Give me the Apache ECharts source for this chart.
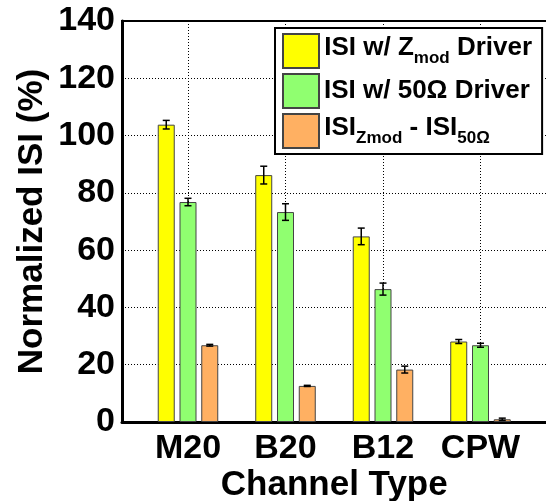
<!DOCTYPE html>
<html>
<head>
<meta charset="utf-8">
<script src="https://cdn.jsdelivr.net/npm/echarts@6/dist/echarts.min.js"></script>
<style>
  html, body { margin: 0; padding: 0; background: #fff; }
  #chart { width: 546px; height: 501px; }
</style>
</head>
<body>
<div id="chart"></div>
<script>
const categories = ['M20', 'B20', 'B12', 'CPW'];
const zmodIsi = [103.8, 86.2, 64.8, 28.1];
const zmodErr = [1.5, 3.1, 2.9, 0.7];
const fiftyIsi = [76.8, 73.3, 46.4, 26.8];
const fiftyErr = [1.3, 2.9, 2.1, 0.7];
const diffIsi = [26.8, 12.6, 18.3, 0.95];
const diffErr = [0.3, 0.2, 1.2, 0.4];
const yTicks = [0, 20, 40, 60, 80, 100, 120, 140];

const FONT = '"Liberation Sans", Arial, sans-serif';
const BAR_W = 17;
const PITCH = BAR_W * 1.28;

// subscripts: a tall empty spacer sets the line height, main text sits at the top, subscript at the bottom
const legendRich = {
  h: { fontSize: 1, lineHeight: 32, verticalAlign: 'top' },
  a: { fontFamily: FONT, fontWeight: 'bold', fontSize: 26, color: '#000', lineHeight: 26, verticalAlign: 'top' },
  b: { fontFamily: FONT, fontWeight: 'bold', fontSize: 26, color: '#000', lineHeight: 26 },
  s: { fontFamily: FONT, fontWeight: 'bold', fontSize: 17, color: '#000', lineHeight: 12, verticalAlign: 'bottom' },
};

const legendText = {
  zmod: '{h| }{a|ISI w/ Z}{s|mod}{a| Driver}',
  fifty: '{b|ISI w/ 50Ω Driver}',
  diff: '{h| }{a|ISI}{s|Zmod}{a| - ISI}{s|50Ω}',
};

function errorBars(offset) {
  return function (params, api) {
    const x = api.coord([api.value(0), 0])[0] + offset;
    const lo = api.coord([api.value(0), api.value(1)])[1];
    const hi = api.coord([api.value(0), api.value(2)])[1];
    const style = { stroke: '#000', lineWidth: 1.5 };
    return {
      type: 'group',
      children: [
        { type: 'line', shape: { x1: x, y1: lo, x2: x, y2: hi }, style: style },
        { type: 'line', shape: { x1: x - 3.5, y1: lo, x2: x + 3.5, y2: lo }, style: style },
        { type: 'line', shape: { x1: x - 3.5, y1: hi, x2: x + 3.5, y2: hi }, style: style },
      ],
    };
  };
}

function errData(vals, errs) {
  return vals.map((v, i) => [i, v - errs[i], v + errs[i]]);
}

function barSeries(key, vals, color) {
  return {
    name: key,
    type: 'bar',
    xAxisIndex: 1,
    yAxisIndex: 1,
    data: vals,
    barWidth: BAR_W,
    barGap: '28%',
    clip: false,
    itemStyle: { color: color, borderColor: '#444', borderWidth: 1 },
  };
}

function errSeries(vals, errs, offset) {
  return {
    type: 'custom',
    xAxisIndex: 1,
    yAxisIndex: 1,
    clip: false,
    z: 5,
    renderItem: errorBars(offset),
    encode: { x: 0, y: [1, 2] },
    data: errData(vals, errs),
  };
}

const chart = echarts.init(document.getElementById('chart'));

const option = {
  animation: false,
  backgroundColor: '#fff',
  grid: [
    { left: 122, right: -2, top: 21, bottom: 79, outerBoundsMode: 'none', containLabel: false, show: true, borderColor: '#000', borderWidth: 2, backgroundColor: 'transparent' },
    { left: 188, right: 65.5, top: 21, bottom: 79, outerBoundsMode: 'none', containLabel: false },
  ],
  legend: {
    orient: 'vertical',
    left: 275,
    top: 28,
    padding: [5, 10, 5, 7],
    itemWidth: 36,
    itemHeight: 34,
    itemGap: 4,
    icon: 'rect',
    backgroundColor: '#fff',
    borderColor: '#000',
    borderWidth: 2,
    borderRadius: 0,
    data: ['zmod', 'fifty', 'diff'],
    formatter: (name) => legendText[name],
    textStyle: { fontFamily: FONT, fontWeight: 'bold', fontSize: 26, color: '#000', rich: legendRich },
  },
  xAxis: [
    {
      gridIndex: 0,
      type: 'value',
      min: 0,
      max: 1,
      axisLine: { show: true, lineStyle: { color: '#000', width: 3 } },
      axisTick: { show: false },
      axisLabel: { show: false },
      splitLine: { show: false },
    },
    {
      gridIndex: 1,
      type: 'category',
      data: categories,
      boundaryGap: false,
      axisLine: { show: false },
      axisTick: { show: false },
      axisLabel: { interval: 0, showMinLabel: true, showMaxLabel: true, color: '#000', fontFamily: FONT, fontWeight: 'bold', fontSize: 34, margin: 10 },
      splitLine: { show: true, lineStyle: { color: '#000', type: [1, 2], width: 1 } },
      name: 'Channel Type',
      nameLocation: 'middle',
      nameGap: 46,
      nameMoveOverlap: false,
      nameTextStyle: { color: '#000', fontFamily: FONT, fontWeight: 'bold', fontSize: 35 },
    },
  ],
  yAxis: [
    {
      gridIndex: 0,
      type: 'value',
      min: yTicks[0],
      max: yTicks[yTicks.length - 1],
      interval: 20,
      axisLine: { show: true, lineStyle: { color: '#000', width: 3 } },
      axisTick: { show: false },
      axisLabel: { color: '#000', fontFamily: FONT, fontWeight: 'bold', fontSize: 34, margin: 7 },
      splitLine: { show: true, lineStyle: { color: '#000', type: [1, 2], width: 1 } },
      name: 'Normalized ISI (%)',
      nameLocation: 'middle',
      nameGap: 72,
      nameMoveOverlap: false,
      nameTextStyle: { color: '#000', fontFamily: FONT, fontWeight: 'bold', fontSize: 35 },
    },
    {
      gridIndex: 1,
      type: 'value',
      min: yTicks[0],
      max: yTicks[yTicks.length - 1],
      show: false,
    },
  ],
  series: [
    barSeries('zmod', zmodIsi, '#FFFF00'),
    barSeries('fifty', fiftyIsi, '#90FF70'),
    barSeries('diff', diffIsi, '#FFB062'),
    errSeries(zmodIsi, zmodErr, -PITCH),
    errSeries(fiftyIsi, fiftyErr, 0),
    errSeries(diffIsi, diffErr, PITCH),
  ],
};

chart.setOption(option);
</script>
</body>
</html>
